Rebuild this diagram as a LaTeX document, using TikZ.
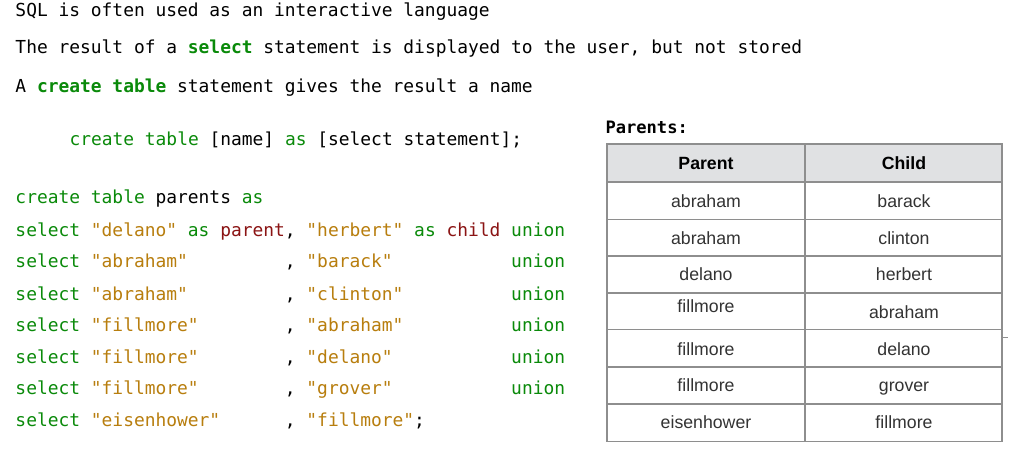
\documentclass[tikz,border=0pt]{standalone}
\usepackage{fontspec}
\setmainfont{Liberation Sans}
\setmonofont{DejaVu Sans Mono}
\newfontfamily\tabfont{Liberation Sans}
\definecolor{kwgreen}{HTML}{0A8A0A}
\definecolor{strbrown}{HTML}{B87E0E}
\definecolor{namered}{HTML}{8B1414}
\definecolor{headfill}{HTML}{E0E1E3}
\definecolor{gridgray}{HTML}{8E8E8E}
\definecolor{celltext}{HTML}{333333}
\newcommand\cKw[1]{\textcolor{kwgreen}{#1}}
\newcommand\cStr[1]{\textcolor{strbrown}{#1}}
\newcommand\cNm[1]{\textcolor{namered}{#1}}
\tikzset{
  codeline/.style={anchor=base west, inner sep=0pt, outer sep=0pt,
    font=\ttfamily\fontsize{17.9}{20}\selectfont, text=black},
  titlecode/.style={codeline, font=\ttfamily\bfseries\fontsize{17.1}{20}\selectfont},
  cell/.style={anchor=base, inner sep=0pt, outer sep=0pt,
    font=\tabfont\fontsize{17.7}{20}\selectfont, text=celltext},
  headcell/.style={cell, font=\tabfont\bfseries\fontsize{17.7}{20}\selectfont, text=black},
  gridline/.style={draw=gridgray, line width=1.5pt},
}
\begin{document}
\begin{tikzpicture}[x=1pt,y=-1pt]
\useasboundingbox (0,0) rectangle (1011,450);
\fill[white] (0,0) rectangle (1011,450);

% intro text
\node[codeline] (t1) at (15.5,16.7) {SQL is often used as an interactive language};
\node[codeline] (t2) at (15.5,53.3) {The result of a \textbf{\cKw{select}} statement is displayed to the user, but not stored};
\node[codeline] (t3) at (15.5,92.3) {A \textbf{\cKw{create table}} statement gives the result a name};

% syntax line
\node[codeline] (syn) at (69.5,145) {\cKw{create table} [name] \cKw{as} [select statement];};

% code
\node[codeline] (c0) at (15.5,203) {\cKw{create table} parents \cKw{as}};
\node[codeline] (c1) at (15.5,236.5) {\cKw{select} \cStr{"delano"} \cKw{as} \cNm{parent}, \cStr{"herbert"} \cKw{as} \cNm{child} \cKw{union}};
\node[codeline] (c2) at (15.5,267.5) {\cKw{select} \cStr{"abraham"}~~~~~~~~~, \cStr{"barack"}~~~~~~~~~~~\cKw{union}};
\node[codeline] (c3) at (15.5,300.5) {\cKw{select} \cStr{"abraham"}~~~~~~~~~, \cStr{"clinton"}~~~~~~~~~~\cKw{union}};
\node[codeline] (c4) at (15.5,331.5) {\cKw{select} \cStr{"fillmore"}~~~~~~~~, \cStr{"abraham"}~~~~~~~~~~\cKw{union}};
\node[codeline] (c5) at (15.5,363.5) {\cKw{select} \cStr{"fillmore"}~~~~~~~~, \cStr{"delano"}~~~~~~~~~~~\cKw{union}};
\node[codeline] (c6) at (15.5,394.5) {\cKw{select} \cStr{"fillmore"}~~~~~~~~, \cStr{"grover"}~~~~~~~~~~~\cKw{union}};
\node[codeline] (c7) at (15.5,426.5) {\cKw{select} \cStr{"eisenhower"}~~~~~~, \cStr{"fillmore"};};

% table title
\node[titlecode] (ttl) at (605.5,133) {Parents:};

% table grid
\fill[headfill] (607,144) rectangle (1002,182);
\draw[gridline] (607,144) rectangle (1002,441.5);
\draw[gridline] (805,144) -- (805,441.5);
\foreach \yy in {182,219.5,256,293,329.5,367,404}
  \draw[gridline] (607,\yy) -- (1002,\yy);
\draw[gridgray, line width=0.8pt] (1002,337) -- (1008,337);

% header
\node[headcell] (hp) at (706,169.5) {Parent};
\node[headcell] (hc) at (904,169.5) {Child};

% rows
\node[cell] (p1) at (706,207.5) {abraham};
\node[cell] (k1) at (904,207.5) {barack};
\node[cell] (p2) at (706,244.3) {abraham};
\node[cell] (k2) at (904,244.3) {clinton};
\node[cell] (p3) at (706,280.7) {delano};
\node[cell] (k3) at (904,280.7) {herbert};
\node[cell] (p4) at (706,312) {fillmore};
\node[cell] (k4) at (904,318) {abraham};
\node[cell] (p5) at (706,355) {fillmore};
\node[cell] (k5) at (904,355) {delano};
\node[cell] (p6) at (706,391.7) {fillmore};
\node[cell] (k6) at (904,391.7) {grover};
\node[cell] (p7) at (706,428.3) {eisenhower};
\node[cell] (k7) at (904,428.3) {fillmore};
\end{tikzpicture}
\end{document}
